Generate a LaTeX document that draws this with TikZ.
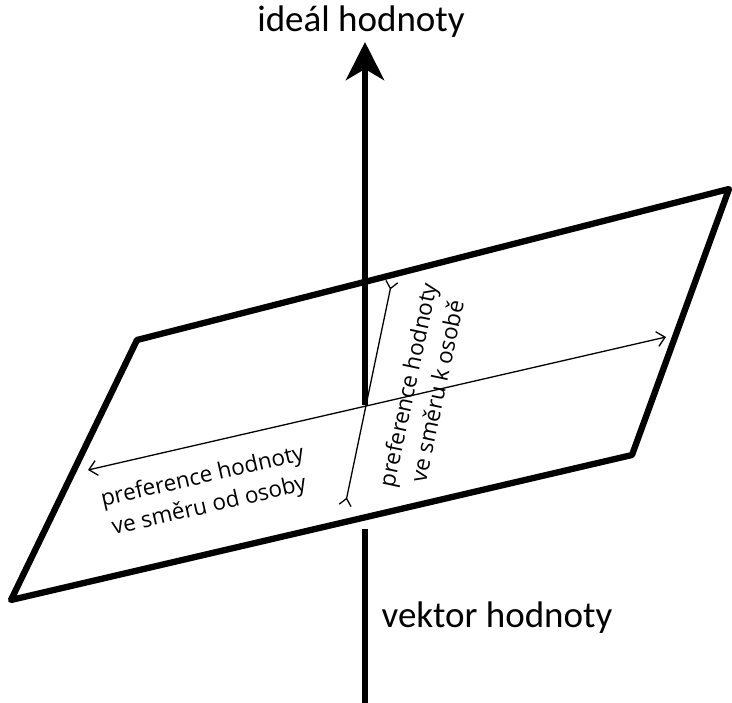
\documentclass[tikz,border=0pt]{standalone}
\usepackage{fontspec}
\setmainfont{Carlito}
\newfontfamily\lblfont{Open Sans}
\usetikzlibrary{arrows.meta}
\begin{document}
\begin{tikzpicture}[x=1pt,y=-1pt,
  plane/.style={line width=6.3pt,line join=round},
  axis/.style={line width=6.5pt},
  thinarrow/.style={line width=1.3pt},
  biglabel/.style={font=\fontsize{37}{40}\selectfont,inner sep=0pt},
  smalllabel/.style={font=\lblfont\fontsize{22.5}{30}\selectfont,align=center,inner sep=0pt}]
\useasboundingbox (0,0) rectangle (732,703);
% plane corners
\coordinate (tl) at (137,340);
\coordinate (tr) at (729,189);
\coordinate (br) at (632,455);
\coordinate (bl) at (11,600);
\draw[plane] (tl) -- (tr) -- (br) -- (bl) -- cycle;
% axis
\coordinate (axc) at (365,405);
\coordinate (axtop) at (365,42);
\coordinate (axlow) at (365,529);
\coordinate (axbot) at (365,703);
\draw[axis,-{Stealth[length=38pt,width=38pt,inset=11pt]}] (axc) -- (axtop);
\draw[axis] (axlow) -- (axbot);
% horizontal double arrow
\coordinate (hl) at (88,470);
\coordinate (hr) at (666,337);
\draw[thinarrow,{Straight Barb[length=8pt,width=15pt]}-{Straight Barb[length=8pt,width=15pt]}] (hl) -- (hr);
% slanted line with reversed tips
\coordinate (sb) at (345,506);
\coordinate (st) at (392,281);
\draw[thinarrow,{Straight Barb[reversed,length=7pt,width=12pt]}-{Straight Barb[reversed,length=7pt,width=12pt]}] (sb) -- (st);
% labels
\node[biglabel,anchor=base] (ideal) at (361,32) {ideál hodnoty};
\node[biglabel,anchor=base] (vektor) at (497,627) {vektor hodnoty};
\node[smalllabel,rotate=13] (od) at (206,492) {preference hodnoty\\ve směru od osoby};
\node[smalllabel,rotate=78] (k) at (422,388) {preference hodnoty\\ve směru k osobě};
\end{tikzpicture}
\end{document}
